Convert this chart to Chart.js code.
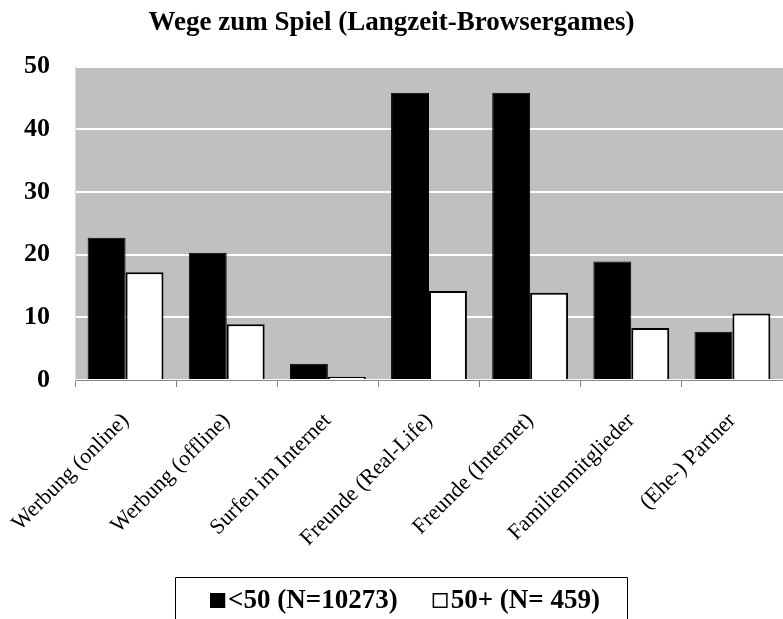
<!DOCTYPE html>
<html>
<head>
<meta charset="utf-8">
<script src="https://cdn.jsdelivr.net/npm/chart.js@4/dist/chart.umd.min.js"></script>
<style>
  html, body { margin: 0; padding: 0; background: #ffffff; overflow: hidden; }
  #wrap { width: 783px; height: 619px; position: relative; }
</style>
</head>
<body>
<div id="wrap"><canvas id="c" width="783" height="619"></canvas></div>
<script>
const titleText = 'Wege zum Spiel (Langzeit-Browsergames)';
const categories = ['Werbung (online)', 'Werbung (offline)', 'Surfen im Internet', 'Freunde (Real-Life)', 'Freunde (Internet)', 'Familienmitglieder', '(Ehe-) Partner'];
const seriesLabels = ['<50 (N=10273)', '50+ (N= 459)'];
const under50 = [22.7, 20.3, 2.6, 45.8, 45.8, 18.9, 7.7];
const over50 = [17.2, 8.9, 0.5, 14.2, 13.9, 8.3, 10.6];
const yTicks = [0, 10, 20, 30, 40, 50];

const FONT = '"Liberation Serif", "Times New Roman", serif';

const plotBg = {
  id: 'plotBg',
  beforeDraw(chart) {
    const {ctx, chartArea: a} = chart;
    ctx.save();
    ctx.fillStyle = '#c0c0c0';
    ctx.fillRect(a.left, a.top, a.right - a.left, a.bottom - a.top);
    ctx.restore();
  }
};

const customLegend = {
  id: 'customLegend',
  afterDraw(chart) {
    const ctx = chart.ctx;
    const ds = chart.data.datasets;
    ctx.save();
    ctx.font = 'bold 27px ' + FONT;
    ctx.textBaseline = 'middle';
    ctx.textAlign = 'left';
    const sq = 15, gap = 3, between = 35;
    const widths = ds.map(d => ctx.measureText(d.label).width);
    let total = 0;
    widths.forEach((w, i) => { total += sq + gap + w; if (i) total += between; });
    const cx = 405;
    let x = cx - total / 2;
    const yMid = 601;
    const startX = x;
    ds.forEach((d, i) => {
      ctx.fillStyle = d.backgroundColor;
      ctx.fillRect(x, yMid - 8, sq, sq);
      ctx.lineWidth = 1.5;
      ctx.strokeStyle = '#000';
      ctx.strokeRect(x + 0.75, yMid - 8 + 0.75, sq - 1.5, sq - 1.5);
      ctx.fillStyle = '#000';
      ctx.fillText(d.label, x + sq + gap, yMid);
      x += sq + gap + widths[i] + between;
    });
    const endX = x - between;
    ctx.lineWidth = 1;
    ctx.strokeStyle = '#000';
    ctx.beginPath();
    ctx.moveTo(Math.round(startX - 35) + 0.5, 625);
    ctx.lineTo(Math.round(startX - 35) + 0.5, 577.5);
    ctx.lineTo(Math.round(endX + 27) + 0.5, 577.5);
    ctx.lineTo(Math.round(endX + 27) + 0.5, 625);
    ctx.stroke();
    ctx.restore();
  }
};

new Chart(document.getElementById('c'), {
  type: 'bar',
  data: {
    labels: categories,
    datasets: [
      { label: seriesLabels[0], data: under50, backgroundColor: '#000000', borderColor: '#000000', borderWidth: 1 },
      { label: seriesLabels[1], data: over50, backgroundColor: '#ffffff', borderColor: '#000000', borderWidth: 2 }
    ]
  },
  options: {
    responsive: false,
    animation: false,
    devicePixelRatio: 1,
    layout: { padding: { left: 0, right: 0, top: 0, bottom: 54 } },
    datasets: { bar: { categoryPercentage: 0.75, barPercentage: 1.0 } },
    plugins: {
      legend: { display: false },
      tooltip: { enabled: false },
      title: {
        display: true,
        text: titleText,
        color: '#000',
        font: { family: FONT, size: 27, weight: 'bold', lineHeight: 1.2 },
        padding: { top: 7, bottom: 27.1 }
      }
    },
    scales: {
      x: {
        offset: true,
        grid: { display: true, drawOnChartArea: false, drawTicks: true, tickLength: 7, color: '#868686', offset: true },
        border: { display: true, color: '#868686', width: 1 },
        ticks: {
          color: '#000',
          font: { family: FONT, size: 22 },
          maxRotation: 45, minRotation: 45,
          padding: 21,
          autoSkip: false
        },
        afterFit(scale) { scale.height = 185; scale.paddingLeft = 0; scale.paddingRight = 0; }
      },
      y: {
        min: 0, max: 50,
        afterBuildTicks(scale) { scale.ticks = yTicks.map(v => ({ value: v })); },
        grid: { color: '#ffffff', lineWidth: 2, drawTicks: false },
        border: { display: true, color: '#d9d9d9', width: 1 },
        ticks: {
          color: '#000',
          font: { family: FONT, size: 26, weight: 'bold' },
          padding: 25
        },
        afterFit(scale) { scale.width = 75; }
      }
    }
  },
  plugins: [plotBg, customLegend]
});
</script>
</body>
</html>
